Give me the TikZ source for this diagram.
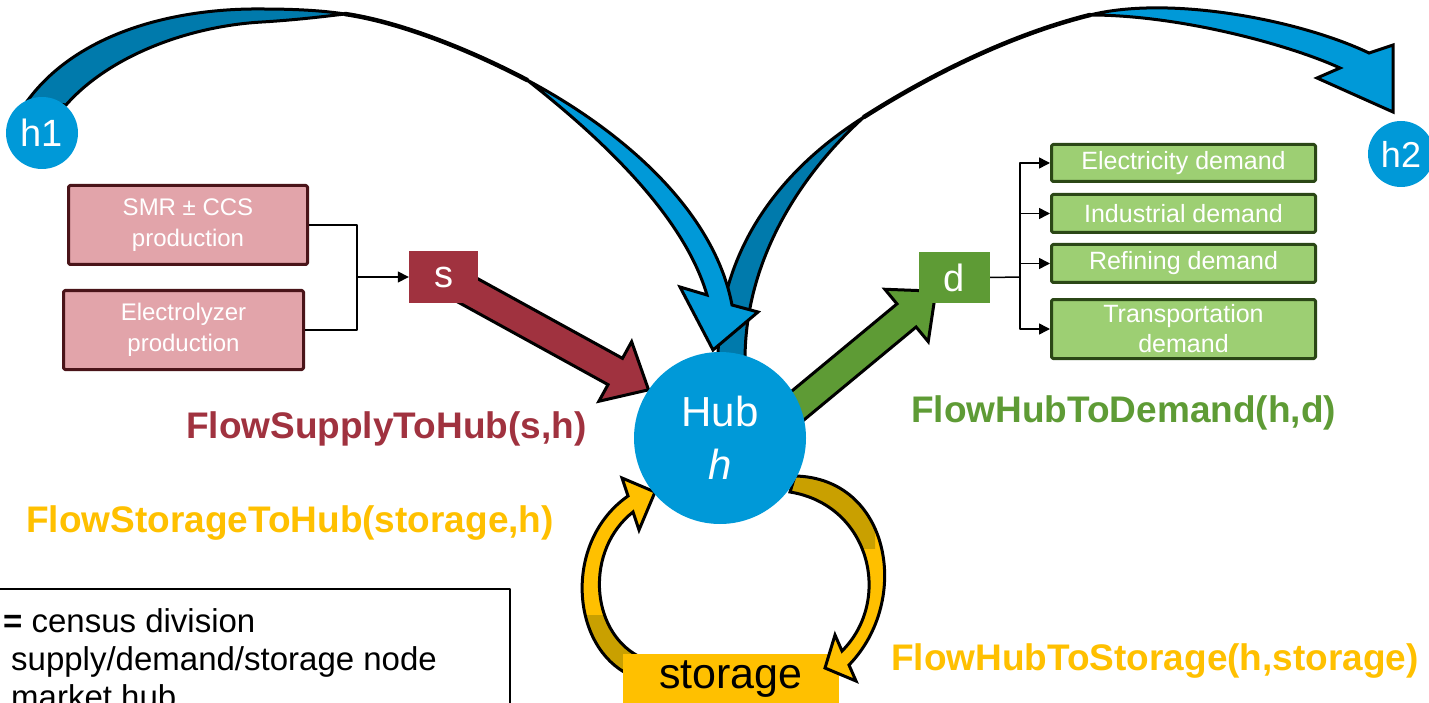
\documentclass[tikz,border=0pt]{standalone}
\usepackage{fontspec}
\setmainfont{Liberation Sans}
\usetikzlibrary{calc,arrows.meta}

\definecolor{hubblue}{HTML}{0099D8}
\definecolor{backblue}{HTML}{007AAC}
\definecolor{supred}{HTML}{A0323F}
\definecolor{suppink}{HTML}{E2A4AA}
\definecolor{supedge}{HTML}{4A1419}
\definecolor{demgreen}{HTML}{5E9B35}
\definecolor{demlight}{HTML}{9DCF73}
\definecolor{demedge}{HTML}{2B4716}
\definecolor{stoyellow}{HTML}{FFC000}
\definecolor{stogold}{HTML}{C9A000}

\pgfdeclarelayer{arrows}
\pgfdeclarelayer{store}
\pgfdeclarelayer{front}
\pgfsetlayers{arrows,store,front,main}

\newcommand\fs[2]{\fontsize{#1}{#2}\selectfont}

% straight block arrow: start, tip, half body width, half head width, head length, style
\newcommand\blockarrow[6]{%
  \coordinate (ba-hb) at ($(#2)!#5!(#1)$);
  \filldraw[#6] ($(#1)!#3!90:(#2)$) -- ($(ba-hb)!#3!-90:(#1)$)
    -- ($(ba-hb)!#4!-90:(#1)$) -- (#2) -- ($(ba-hb)!#4!90:(#1)$)
    -- ($(ba-hb)!#3!90:(#1)$) -- ($(#1)!#3!-90:(#2)$) -- cycle;}

% outlines of the two storage loop arrows
\newcommand\loopin{(624,672) .. controls (570,640) and (565,540) .. (628,496)
  -- (622,478) -- (655,492) -- (639,530) -- (633,512)
  .. controls (585,550) and (590,630) .. (638,656) -- cycle}
\newcommand\loopout{(795,476) .. controls (890,478) and (912,600) .. (849,665)
  -- (856,681) -- (825,668) -- (835,635) -- (842,651)
  .. controls (893,600) and (870,505) .. (790,492) -- cycle}

\begin{document}
\begin{tikzpicture}[x=1pt,y=-1pt,line join=round,
  hubnode/.style={circle,fill=hubblue,text=white,inner sep=0pt,minimum size=172pt,
    align=center,font=\fs{42}{53}},
  sidehub/.style={circle,fill=hubblue,text=white,inner sep=0pt},
  supbox/.style={draw=supedge,line width=3pt,fill=suppink,text=white,rounded corners=1.5pt,
    align=center,inner sep=0pt,font=\fs{24}{31}},
  dembox/.style={draw=demedge,line width=3pt,fill=demlight,text=white,rounded corners=1.5pt,
    align=center,inner sep=0pt,minimum width=264pt,font=\fs{25}{30}},
  keybox/.style={text=white,inner sep=0pt,font=\fs{38}{40}},
  flowlabel/.style={anchor=base west,inner sep=0pt,font=\fs{37}{44}\bfseries},
  legendtext/.style={anchor=base west,inner sep=0pt,font=\fs{33}{38}},
  feed/.style={line width=1.5pt,draw=black},
  feedarrow/.style={feed,-{Triangle[length=11pt,width=11pt]}},
  ribbonfront/.style={fill=hubblue,draw=black,line width=3pt},
  ribbonback/.style={fill=backblue,draw=black,line width=3pt},
  ribbonedge/.style={draw=black,line width=4.5pt,line cap=round},
  redarrow/.style={fill=supred,draw=black,line width=3pt},
  greenarrow/.style={fill=demgreen,draw=black,line width=3pt}]

\useasboundingbox (0,0) rectangle (1429,703);

% ---- nodes ----
\node[hubnode] (hub) at (720,438) {Hub\\\textit{h}};
\node[sidehub,minimum size=72pt,font=\fs{38}{40}] (h1) at (42,133) {h1};
\node[sidehub,minimum size=66pt,font=\fs{36}{40}] (h2) at (1401,154) {h2};

\node[supbox,minimum width=239pt,minimum height=79pt] (smr) at (188,225) {SMR ± CCS\\production};
\node[supbox,minimum width=240pt,minimum height=79pt] (ely) at (183.5,330) {Electrolyzer\\production};
\node[keybox,fill=supred,minimum width=69pt,minimum height=52pt] (s) at (443.5,277) {s};

\node[keybox,fill=demgreen,minimum width=71pt,minimum height=51pt] (d) at (954.5,277.5) {d};
\node[dembox,minimum height=37pt] (elec) at (1183.5,163) {Electricity demand};
\node[dembox,minimum height=38pt] (ind) at (1183.5,213.5) {Industrial demand};
\node[dembox,minimum height=38pt] (ref) at (1183.5,263.5) {Refining demand};
\node[dembox,minimum height=59pt] (tra) at (1183.5,329) {Transportation\\demand};

\begin{pgfonlayer}{store}
\node[fill=stoyellow,inner sep=0pt,minimum width=216pt,minimum height=50pt,
  font=\fs{43}{45},anchor=north] (sto) at (731,654) {storage};
\end{pgfonlayer}

% ---- flow labels ----
\node[flowlabel,text=supred] (lsup) at (186,438) {FlowSupplyToHub(s,h)};
\node[flowlabel,text=stoyellow] (lsth) at (26,532) {FlowStorageToHub(storage,h)};
\node[flowlabel,text=demgreen] (ldem) at (911,422) {FlowHubToDemand(h,d)};
\node[flowlabel,text=stoyellow] (lhts) at (891,670) {FlowHubToStorage(h,storage)};

% ---- feeders into s and out of d ----
\coordinate (sj) at (357,277);
\draw[feed] (smr.east) -| (sj);
\draw[feed] (ely.east) -| (sj);
\draw[feedarrow] (sj) -- (s.west);

\coordinate (dj) at (1020,277);
\draw[feed] (d.east) -- (dj);
\foreach \t in {elec,ind,ref,tra}
  \draw[feedarrow] (dj) |- (\t.west);

% ---- legend ----
\draw[line width=1.5pt] (-5,589) rectangle (510,740);
\node[legendtext] (leg1) at (3,632) {\textbf{=} census division};
\node[legendtext] (leg2) at (11,670) {supply/demand/storage node};
\node[legendtext] (leg3) at (11,708) {market hub};

% ---- flow arrows ----
\begin{pgfonlayer}{arrows}
  % supply node to hub
  \blockarrow{s.center}{hub.146}{15pt}{34pt}{38pt}{redarrow}
  % hub to demand node
  \coordinate (gstart) at ($(hub.center)+(0,32)$);
  \coordinate (gtip) at ($(d.south west)+(17,-12)$);
  \blockarrow{gstart}{gtip}{15pt}{34pt}{38pt}{greenarrow}

  % hub to h2: twisted ribbon
  \filldraw[ribbonback] (718,360) .. controls (718,250) and (780,170) .. (864,117)
    .. controls (800,175) and (745,260) .. (745,360) -- cycle;
  \draw[ribbonedge] (864,117) .. controls (930,75) and (1010,35) .. (1090,15);
  \filldraw[ribbonfront] (1090,15) .. controls (1170,-5) and (1300,20) .. (1369,53)
    -- (1393,45) -- (1393,112) -- (1317,78) -- (1340,68)
    .. controls (1290,45) and (1180,15) .. (1090,15) -- cycle;

  % h1 to hub: twisted ribbon, head lying over the other ribbon
  \filldraw[ribbonback] (28,100) .. controls (80,30) and (180,8) .. (262,9)
    .. controls (300,9) and (325,11) .. (345,14)
    .. controls (320,17) and (295,20) .. (262,22)
    .. controls (190,26) and (110,55) .. (66,105) -- cycle;
  \draw[ribbonedge] (345,14) .. controls (400,22) and (470,50) .. (527,80);
  \filldraw[ribbonfront] (527,80) .. controls (630,135) and (715,215) .. (732,305)
    -- (758,312) -- (713,350) -- (680,287) -- (707,295)
    .. controls (685,220) and (610,145) .. (527,80) -- cycle;

  % storage to hub (passes behind the storage box)
  \fill[stoyellow] \loopin;
  \begin{scope}
    \clip (540,615) rectangle (700,700);
    \fill[stogold] \loopin;
  \end{scope}
  \draw[black,line width=3pt] \loopin;
\end{pgfonlayer}

\begin{pgfonlayer}{front}
  % hub to storage (leaves from behind the hub)
  \fill[stoyellow] \loopout;
  \begin{scope}
    \clip (760,460) rectangle (875,548);
    \fill[stogold] \loopout;
  \end{scope}
  \draw[black,line width=3pt] \loopout;
\end{pgfonlayer}

\end{tikzpicture}
\end{document}
